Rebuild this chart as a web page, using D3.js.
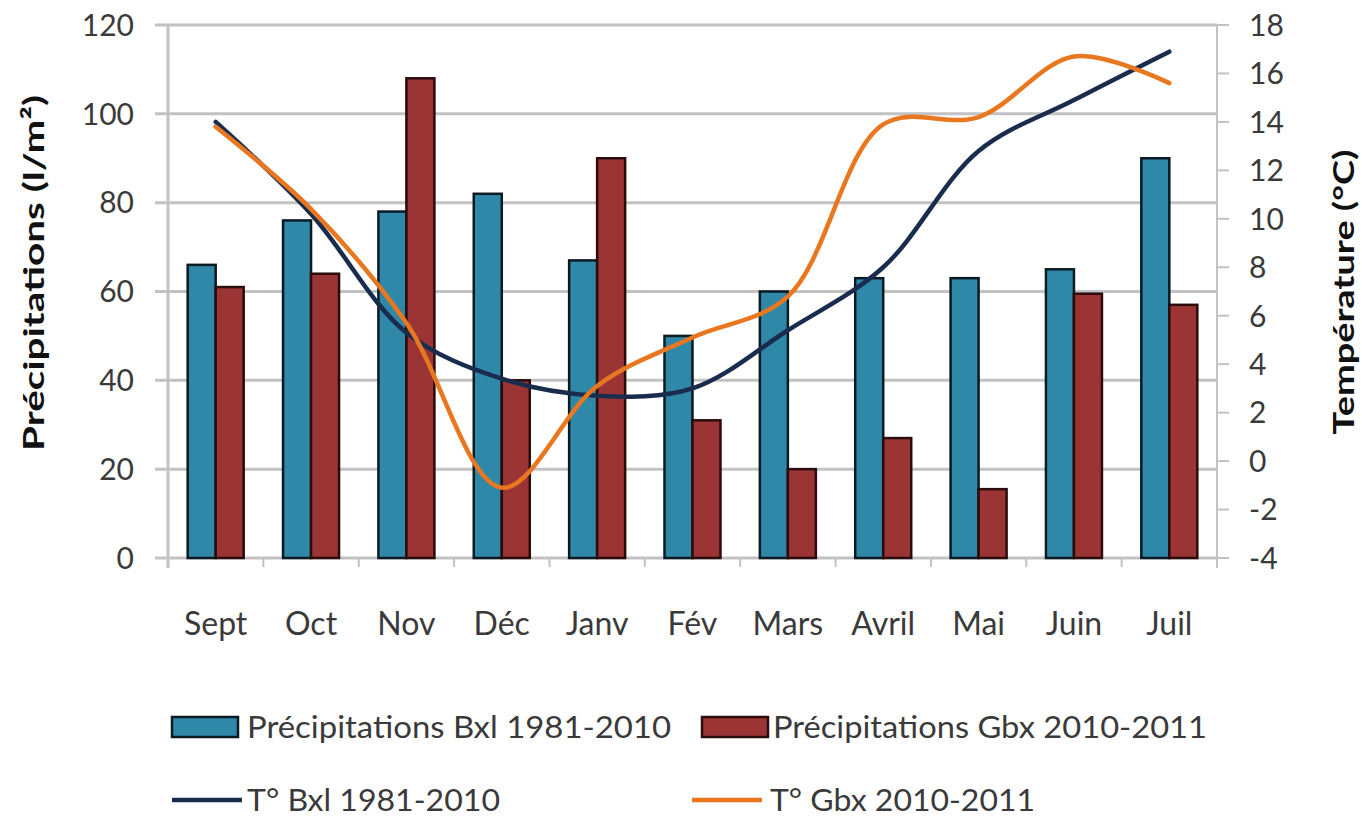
<!DOCTYPE html>
<html><head><meta charset="utf-8">
<script src="https://cdn.jsdelivr.net/npm/d3@7"></script>
<style>
body{margin:0;background:#fff;}
svg text{font-family:Lato,"Open Sans",sans-serif;fill:#3a3a3a;}
</style></head>
<body><svg id="c" width="1362" height="819"></svg>
<script>
const categories = ["Sept","Oct","Nov","Déc","Janv","Fév","Mars","Avril","Mai","Juin","Juil"];
const precipBxl = [66,76,78,82,67,50,60,63,63,65,90];
const precipGbx = [61,64,108,40,90,31,20,27,15.5,59.5,57];
const tempBxl = [14.0,10.2,5.3,3.4,2.7,3.0,5.4,8.0,12.8,14.9,16.9];
const tempGbx = [13.8,10.4,5.7,-1.1,3.1,5.1,6.8,13.9,14.2,16.7,15.6];
const leftTicks = [0,20,40,60,80,100,120];
const rightTicks = [-4,-2,0,2,4,6,8,10,12,14,16,18];
const seriesNames = ["Précipitations Bxl 1981-2010","Précipitations Gbx 2010-2011","T° Bxl 1981-2010","T° Gbx 2010-2011"];

const colBlue="#2f88a8", colRed="#9b3535", colNavy="#1a2c4e", colOrange="#e8771f", grid="#c2c2c2";
const L=168,R=1217,T=25,B=558;
const svg=d3.select("#c");
const x=d3.scaleBand().domain(categories).range([L,R]).padding(0);
const yL=d3.scaleLinear().domain([0,120]).range([B,T]);
const yR=d3.scaleLinear().domain([-4,18]).range([B,T]);
const bw=28;

// gridlines
svg.append("g").selectAll("line").data(leftTicks).join("line")
  .attr("x1",L-13).attr("x2",R).attr("y1",d=>yL(d)).attr("y2",d=>yL(d))
  .attr("stroke",grid).attr("stroke-width",3);
svg.append("line").attr("x1",L).attr("x2",L).attr("y1",T).attr("y2",B+10).attr("stroke",grid).attr("stroke-width",3);
svg.append("line").attr("x1",R).attr("x2",R).attr("y1",T).attr("y2",B+10).attr("stroke",grid).attr("stroke-width",2);
svg.append("g").selectAll("line").data(rightTicks).join("line")
  .attr("x1",R).attr("x2",R+12).attr("y1",d=>yR(d)).attr("y2",d=>yR(d))
  .attr("stroke",grid).attr("stroke-width",2);
const bounds=categories.map(c=>x(c)).concat([R]);
svg.append("g").selectAll("line").data(bounds).join("line")
  .attr("x1",d=>d).attr("x2",d=>d).attr("y1",B).attr("y2",B+9)
  .attr("stroke",grid).attr("stroke-width",2);

// bars
const g=svg.append("g");
g.selectAll("rect.b").data(precipBxl).join("rect")
  .attr("x",(d,i)=>x(categories[i])+x.bandwidth()/2-bw).attr("width",bw)
  .attr("y",d=>yL(d)).attr("height",d=>B-yL(d))
  .attr("fill",colBlue).attr("stroke","#0a1a22").attr("stroke-width",2.5);
g.selectAll("rect.r").data(precipGbx).join("rect")
  .attr("x",(d,i)=>x(categories[i])+x.bandwidth()/2).attr("width",bw)
  .attr("y",d=>yL(d)).attr("height",d=>B-yL(d))
  .attr("fill",colRed).attr("stroke","#2a0c0c").attr("stroke-width",2.5);

// lines
const line=(arr)=>d3.line().x((d,i)=>x(categories[i])+x.bandwidth()/2).y(d=>yR(d)).curve(d3.curveCatmullRom.alpha(0.5))(arr);
svg.append("path").attr("d",line(tempBxl)).attr("fill","none").attr("stroke",colNavy).attr("stroke-width",4.5).attr("stroke-linecap","round");
svg.append("path").attr("d",line(tempGbx)).attr("fill","none").attr("stroke",colOrange).attr("stroke-width",4.5).attr("stroke-linecap","round");

// tick labels
svg.append("g").selectAll("text").data(leftTicks).join("text")
  .attr("x",134).attr("y",d=>yL(d)).attr("dy","0.36em").attr("text-anchor","end")
  .attr("font-size",30).text(d=>d);
svg.append("g").selectAll("text").data(rightTicks).join("text")
  .attr("x",1249).attr("y",d=>yR(d)).attr("dy","0.36em").attr("text-anchor","start")
  .attr("font-size",30).text(d=>d);
svg.append("g").selectAll("text").data(categories).join("text")
  .attr("x",d=>x(d)+x.bandwidth()/2).attr("y",635).attr("text-anchor","middle")
  .attr("font-size",32).text(d=>d);

// axis titles
svg.append("text").attr("transform","translate(44,273) rotate(-90)").attr("text-anchor","middle")
  .attr("font-size",29).attr("font-weight","bold").style("fill","#111")
  .attr("textLength",356).attr("lengthAdjust","spacingAndGlyphs").text("Précipitations (l/m²)");
svg.append("text").attr("transform","translate(1354,292) rotate(-90)").attr("text-anchor","middle")
  .attr("font-size",29).attr("font-weight","bold").style("fill","#111")
  .attr("textLength",285).attr("lengthAdjust","spacingAndGlyphs").text("Température (°C)");

// legend
const leg=svg.append("g");
const legItems=[
  {name:seriesNames[0],type:"rect",col:colBlue,stroke:"#0a1a22",x:172,y:727,tx:247,w:424},
  {name:seriesNames[1],type:"rect",col:colRed,stroke:"#2a0c0c",x:702,y:727,tx:773,w:434},
  {name:seriesNames[2],type:"line",col:colNavy,x:172,y:800,tx:247,w:253},
  {name:seriesNames[3],type:"line",col:colOrange,x:692,y:800,tx:770,w:265}
];
legItems.forEach(it=>{
  if(it.type==="rect"){
    leg.append("rect").attr("x",it.x).attr("y",it.y-10).attr("width",66).attr("height",20)
      .attr("fill",it.col).attr("stroke",it.stroke).attr("stroke-width",2.5);
  } else {
    leg.append("line").attr("x1",it.x).attr("x2",it.x+70).attr("y1",it.y).attr("y2",it.y)
      .attr("stroke",it.col).attr("stroke-width",4.5);
  }
  leg.append("text").attr("x",it.tx).attr("y",it.y).attr("dy","0.36em").attr("font-size",31)
    .attr("textLength",it.w).attr("lengthAdjust","spacingAndGlyphs").text(it.name);
});
</script></body></html>
